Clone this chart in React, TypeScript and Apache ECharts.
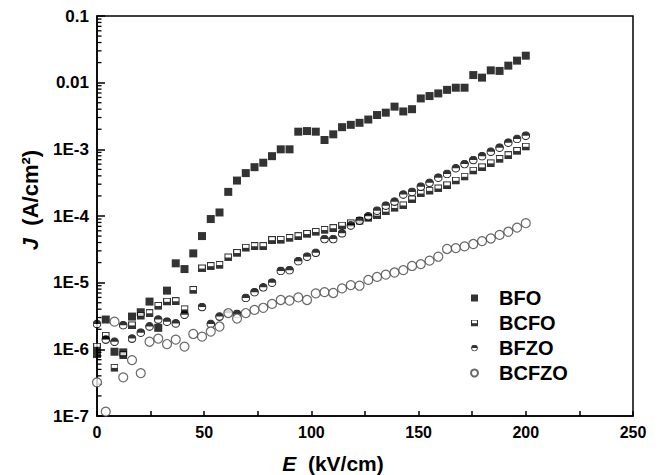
import React, { useEffect, useRef } from "react";
import * as echarts from "echarts";

// Electric field E (kV/cm) for each measured point
const fieldE = [
  0, 4.08, 8.16, 12.24, 16.33, 20.41, 24.49, 28.57, 32.65, 36.73,
  40.82, 44.9, 48.98, 53.06, 57.14, 61.22, 65.31, 69.39, 73.47, 77.55,
  81.63, 85.71, 89.8, 93.88, 97.96, 102.04, 106.12, 110.2, 114.29, 118.37,
  122.45, 126.53, 130.61, 134.69, 138.78, 142.86, 146.94, 151.02, 155.1, 159.18,
  163.27, 167.35, 171.43, 175.51, 179.59, 183.67, 187.76, 191.84, 195.92, 200,
];

const bfo = [
  8.5e-7, 2.8e-6, 9.2e-7, 9.0e-7, 3.1e-6, 3.6e-6, 5.2e-6, 2.1e-6, 7.6e-6, 1.95e-5,
  1.6e-5, 2.75e-5, 5.0e-5, 9.0e-5, 1.13e-4, 2.3e-4, 3.4e-4, 4.4e-4, 5.4e-4, 6.3e-4,
  7.9e-4, 1.0e-3, 1.0e-3, 1.84e-3, 1.88e-3, 1.84e-3, 1.38e-3, 1.68e-3, 2.15e-3, 2.33e-3,
  2.5e-3, 2.8e-3, 3.27e-3, 3.55e-3, 4.37e-3, 3.7e-3, 4.0e-3, 5.8e-3, 6.3e-3, 6.9e-3,
  7.8e-3, 8.4e-3, 8.4e-3, 1.3e-2, 1.19e-2, 1.53e-2, 1.5e-2, 1.8e-2, 2.14e-2, 2.54e-2,
];

const bcfo = [
  1.1e-6, 1.6e-6, 5.3e-7, 8.2e-7, 2.3e-6, 3.2e-6, 3.5e-6, 4.5e-6, 5.2e-6, 5.3e-6,
  4.0e-6, 7.8e-6, 1.64e-5, 1.78e-5, 1.85e-5, 2.4e-5, 2.8e-5, 3.35e-5, 3.55e-5, 3.55e-5,
  4.37e-5, 4.4e-5, 4.7e-5, 5.0e-5, 5.4e-5, 5.8e-5, 6.2e-5, 6.6e-5, 7.2e-5, 7.8e-5,
  8.5e-5, 9.4e-5, 1.02e-4, 1.17e-4, 1.33e-4, 1.45e-4, 1.78e-4, 2.19e-4, 2.4e-4, 2.6e-4,
  2.9e-4, 3.4e-4, 3.9e-4, 4.8e-4, 5.4e-4, 6.2e-4, 7.2e-4, 8.2e-4, 9.5e-4, 1.1e-3,
];

const bfzo = [
  2.4e-6, 1.4e-6, 1.3e-6, 2.3e-6, 1.45e-6, 1.78e-6, 2.2e-6, 2.8e-6, 2.6e-6, 2.45e-6,
  3.3e-6, null, 4.3e-6, 2.4e-6, 3.1e-6, 3.5e-6, 3.4e-6, 5.9e-6, 7.2e-6, 8.5e-6,
  1.0e-5, 1.5e-5, 1.54e-5, 2.1e-5, 2.45e-5, 2.8e-5, 4.5e-5, 4.5e-5, 5.5e-5, 7.2e-5,
  8.5e-5, 9.9e-5, 1.2e-4, 1.43e-4, 1.64e-4, 2.1e-4, 2.3e-4, 2.75e-4, 3.15e-4, 3.76e-4,
  4.27e-4, 5.2e-4, 6.0e-4, 6.9e-4, 7.9e-4, 9.2e-4, 1.06e-3, 1.26e-3, 1.43e-3, 1.6e-3,
];

const bcfzo = [
  3.2e-7, 1.16e-7, 2.6e-6, 3.8e-7, 6.9e-7, 4.4e-7, 1.3e-6, 1.45e-6, 1.2e-6, 1.4e-6,
  1.1e-6, 1.7e-6, 1.55e-6, 1.85e-6, 2.2e-6, 3.5e-6, 2.9e-6, 3.5e-6, 3.9e-6, 4.2e-6,
  4.8e-6, 5.5e-6, 5.4e-6, 6.0e-6, 5.5e-6, 6.9e-6, 7.2e-6, 7.0e-6, 8.2e-6, 9.2e-6,
  9.0e-6, 1.1e-5, 1.22e-5, 1.32e-5, 1.42e-5, 1.54e-5, 1.78e-5, 1.9e-5, 2.14e-5, 2.45e-5,
  3.2e-5, 3.3e-5, 3.5e-5, 3.8e-5, 4.2e-5, 4.6e-5, 5.2e-5, 5.8e-5, 6.7e-5, 7.8e-5,
];

const seriesNames = ["BFO", "BCFO", "BFZO", "BCFZO"];
const yTickLabels = ["1E-7", "1E-6", "1E-5", "1E-4", "1E-3", "0.01", "0.1"];
const decades = [1e-7, 1e-6, 1e-5, 1e-4, 1e-3, 1e-2];
const minorMultipliers = [2, 3, 4, 5, 6, 7, 8, 9];

const FONT = 'Arial, "Liberation Sans", sans-serif';

const svgUri = (s: string) =>
  "image://data:image/svg+xml;charset=utf-8," + encodeURIComponent(s);

const halfSquare = svgUri(
  "<svg xmlns='http://www.w3.org/2000/svg' width='20' height='20' viewBox='0 0 20 20'>" +
    "<rect x='1.5' y='1.5' width='17' height='17' fill='#fff' stroke='#000' stroke-width='3'/>" +
    "<rect x='1.5' y='10.5' width='17' height='8' fill='#000'/></svg>"
);
const halfCircle = svgUri(
  "<svg xmlns='http://www.w3.org/2000/svg' width='20' height='20' viewBox='0 0 20 20'>" +
    "<circle cx='10' cy='10' r='8.5' fill='#fff' stroke='#000' stroke-width='2.5'/>" +
    "<path d='M1.5 10 A8.5 8.5 0 0 1 18.5 10 Z' fill='#000'/></svg>"
);

const pairs = (ys: (number | null)[]) =>
  fieldE.map((x, i) => (ys[i] == null ? [x, "-"] : [x, ys[i]]));

export default function App() {
  const ref = useRef<HTMLDivElement>(null);

  useEffect(() => {
    if (!ref.current) return;
    const chart = echarts.init(ref.current, undefined, { renderer: "svg" });

    const minorTicks: number[][] = [];
    decades.forEach((d) =>
      minorMultipliers.forEach((m) => minorTicks.push([0, d * m]))
    );

    const option: any = {
      animation: false,
      backgroundColor: "#fff",
      textStyle: { fontFamily: FONT },
      grid: {
        left: 97,
        right: 33,
        top: 16,
        bottom: 59,
        show: true,
        borderColor: "#000",
        borderWidth: 1.5,
        backgroundColor: "transparent",
      },
      xAxis: {
        type: "value",
        min: 0,
        max: 250,
        interval: 25,
        axisLine: { lineStyle: { color: "#000", width: 1.5 } },
        axisTick: { inside: true, length: 5, lineStyle: { color: "#000", width: 1.5 } },
        splitLine: { show: false },
        axisLabel: {
          color: "#000",
          fontSize: 16,
          fontWeight: "bold",
          fontFamily: FONT,
          margin: 8,
          formatter: (v: number) => (v % 50 === 0 ? String(v) : ""),
        },
      },
      yAxis: {
        type: "log",
        logBase: 10,
        min: 1e-7,
        max: 0.1,
        axisLine: { lineStyle: { color: "#000", width: 1.5 } },
        axisTick: { inside: true, length: 8, lineStyle: { color: "#000", width: 1.5 } },
        splitLine: { show: false },
        axisLabel: {
          color: "#000",
          fontSize: 17,
          fontWeight: "bold",
          fontFamily: FONT,
          margin: 8,
          formatter: (v: number) => {
            const i = Math.round(Math.log10(v)) + 7;
            return yTickLabels[i] ?? "";
          },
        },
      },
      legend: {
        orient: "vertical",
        left: 465,
        top: 283,
        itemWidth: 7,
        itemHeight: 7,
        itemGap: 5,
        textStyle: {
          fontSize: 20,
          fontWeight: "bold",
          color: "#000",
          fontFamily: FONT,
          padding: [0, 0, 0, 16],
        },
        data: [
          { name: seriesNames[0], icon: "rect" },
          { name: seriesNames[1], icon: halfSquare },
          { name: seriesNames[2], icon: halfCircle },
          { name: seriesNames[3], icon: "circle" },
        ],
      },
      graphic: [
        {
          type: "text",
          x: 333,
          y: 463,
          style: {
            text: "{i|E}  (kV/cm)",
            fontSize: 21,
            fontWeight: "bold",
            fontFamily: FONT,
            fill: "#000",
            align: "center",
            verticalAlign: "middle",
            rich: {
              i: { fontSize: 21, fontWeight: "bold", fontStyle: "italic", fontFamily: FONT, fill: "#000" },
            },
          },
        },
        {
          type: "text",
          x: 30,
          y: 200,
          rotation: Math.PI / 2,
          style: {
            text: "{i|J}  (A/cm²)",
            fontSize: 22,
            fontWeight: "bold",
            fontFamily: FONT,
            fill: "#000",
            align: "center",
            verticalAlign: "middle",
            rich: {
              i: { fontSize: 22, fontWeight: "bold", fontStyle: "italic", fontFamily: FONT, fill: "#000" },
            },
          },
        },
      ],
      series: [
        {
          type: "custom",
          name: "minorTicks",
          silent: true,
          data: minorTicks,
          renderItem: (params: any, api: any) => {
            const p = api.coord([0, api.value(1)]);
            return {
              type: "line",
              shape: { x1: p[0], y1: p[1], x2: p[0] + 4.5, y2: p[1] },
              style: { stroke: "#000", lineWidth: 1.3 },
            };
          },
        },
        {
          name: seriesNames[0],
          type: "scatter",
          symbol: "rect",
          symbolSize: 8,
          itemStyle: { color: "#000" },
          data: pairs(bfo),
        },
        {
          name: seriesNames[1],
          type: "scatter",
          symbol: halfSquare,
          symbolSize: 8,
          itemStyle: { color: "#000" },
          data: pairs(bcfo),
        },
        {
          name: seriesNames[2],
          type: "scatter",
          symbol: halfCircle,
          symbolSize: 9,
          itemStyle: { color: "#000" },
          data: pairs(bfzo),
        },
        {
          name: seriesNames[3],
          type: "scatter",
          symbol: "circle",
          symbolSize: 9,
          itemStyle: { color: "#fff", borderColor: "#444", borderWidth: 1.2 },
          data: pairs(bcfzo),
        },
      ],
    };

    chart.setOption(option);
    return () => chart.dispose();
  }, []);

  return (
    <div
      ref={ref}
      style={{ position: "fixed", left: 0, top: 0, width: 666, height: 475, background: "#fff" }}
    />
  );
}
